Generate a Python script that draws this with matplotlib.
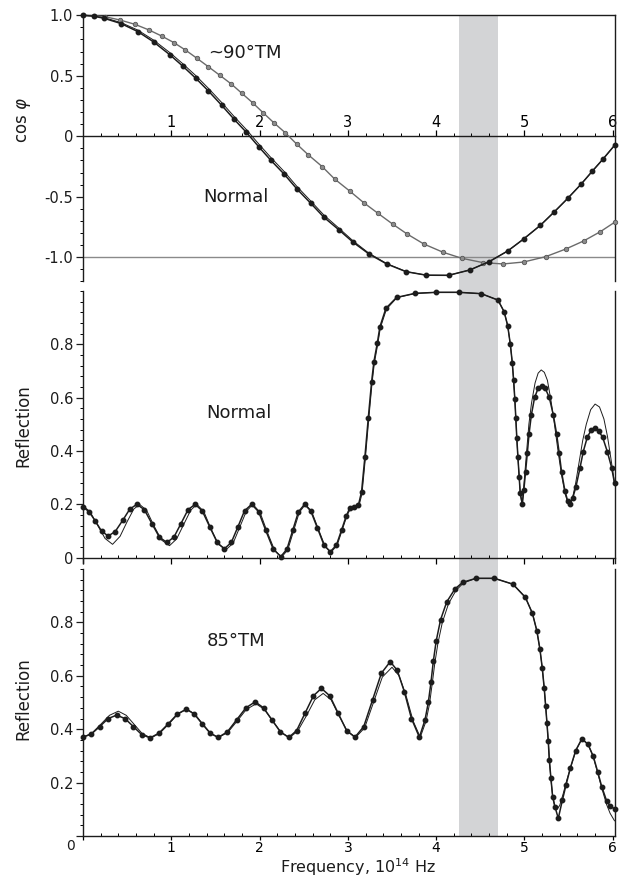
import matplotlib
matplotlib.use("Agg")
import matplotlib.pyplot as plt
from matplotlib.ticker import MultipleLocator

# shaded frequency band (10^14 Hz)
band = [4.26, 4.70]

# ---- top panel: cos(phi) ----
tm90_x = [0.00, 0.12, 0.25, 0.42, 0.59, 0.75, 0.89, 1.03, 1.16, 1.29, 1.42, 1.55, 1.68,
          1.80, 1.92, 2.04, 2.16, 2.29, 2.42, 2.55, 2.71, 2.85, 3.02, 3.18, 3.34, 3.51,
          3.67, 3.86, 4.08, 4.29, 4.53, 4.76, 4.99, 5.24, 5.47, 5.67, 5.86, 6.02]
tm90_y = [1.000, 0.997, 0.988, 0.961, 0.925, 0.878, 0.829, 0.774, 0.713, 0.645, 0.575,
          0.504, 0.432, 0.355, 0.278, 0.195, 0.113, 0.030, -0.064, -0.152, -0.251, -0.353,
          -0.452, -0.549, -0.636, -0.727, -0.807, -0.890, -0.959, -1.008, -1.044, -1.055,
          -1.039, -0.995, -0.931, -0.865, -0.788, -0.711]

norm_x = [0.00, 0.12, 0.24, 0.43, 0.62, 0.80, 0.99, 1.13, 1.28, 1.42, 1.57, 1.71, 1.85,
          1.99, 2.13, 2.28, 2.42, 2.58, 2.73, 2.90, 3.06, 3.24, 3.44, 3.66, 3.89, 4.14,
          4.38, 4.60, 4.81, 4.99, 5.18, 5.34, 5.49, 5.64, 5.77, 5.89, 6.02]
norm_dots_y = [1.0, 0.993, 0.975, 0.932, 0.866, 0.78, 0.67, 0.58, 0.478, 0.375, 0.257,
               0.142, 0.033, -0.086, -0.2, -0.314, -0.433, -0.554, -0.67, -0.774, -0.876,
               -0.973, -1.055, -1.119, -1.148, -1.149, -1.105, -1.036, -0.948, -0.849,
               -0.736, -0.623, -0.513, -0.397, -0.287, -0.188, -0.075]
norm_line_y = [1.0, 0.995, 0.98, 0.940, 0.878, 0.795, 0.688, 0.600, 0.500, 0.397, 0.280,
               0.165, 0.056, -0.063, -0.177, -0.292, -0.412, -0.535, -0.652, -0.760,
               -0.865, -0.967, -1.052, -1.118, -1.148, -1.149, -1.105, -1.036, -0.948,
               -0.849, -0.736, -0.623, -0.513, -0.397, -0.287, -0.188, -0.075]

# ---- middle panel: reflection, normal incidence ----
rn_dots_x = [0.00, 0.07, 0.14, 0.21, 0.285, 0.365, 0.45, 0.53, 0.61, 0.695, 0.78, 0.865,
             0.95, 1.03, 1.11, 1.19, 1.27, 1.35, 1.435, 1.52, 1.60, 1.68, 1.755, 1.83,
             1.91, 1.99, 2.07, 2.155, 2.24, 2.31, 2.375, 2.44, 2.51, 2.58, 2.655, 2.73,
             2.80, 2.87, 2.93, 2.98, 3.02, 3.07, 3.12,
             3.155, 3.193, 3.231, 3.269, 3.295, 3.333, 3.363, 3.431, 3.552, 3.76, 4.00,
             4.26, 4.51, 4.70, 4.77, 4.81, 4.84, 4.862, 4.877, 4.891, 4.902, 4.913, 4.926,
             4.94, 4.952, 4.975,
             4.993, 5.012, 5.032, 5.052, 5.078, 5.115, 5.155, 5.194, 5.235, 5.281, 5.327,
             5.364, 5.394, 5.421, 5.458, 5.49, 5.515,
             5.545, 5.583, 5.628, 5.666, 5.712, 5.755, 5.798, 5.84, 5.885, 5.938, 5.987, 6.02]
rn_dots_y = [0.190, 0.172, 0.137, 0.100, 0.081, 0.098, 0.140, 0.182, 0.200, 0.180, 0.128,
             0.077, 0.057, 0.077, 0.128, 0.180, 0.200, 0.176, 0.116, 0.057, 0.033, 0.057,
             0.116, 0.176, 0.200, 0.172, 0.102, 0.032, 0.004, 0.032, 0.102, 0.172, 0.200,
             0.175, 0.111, 0.047, 0.022, 0.047, 0.105, 0.155, 0.185, 0.190, 0.198,
             0.247, 0.378, 0.523, 0.660, 0.735, 0.804, 0.866, 0.935, 0.976, 0.991, 0.995,
             0.995, 0.990, 0.966, 0.922, 0.870, 0.800, 0.731, 0.666, 0.594, 0.524, 0.450,
             0.376, 0.304, 0.242, 0.201,
             0.254, 0.320, 0.391, 0.464, 0.535, 0.601, 0.635, 0.645, 0.635, 0.601, 0.535,
             0.464, 0.391, 0.320, 0.251, 0.212, 0.201,
             0.222, 0.266, 0.335, 0.398, 0.452, 0.478, 0.485, 0.475, 0.452, 0.398, 0.338, 0.279]

rn_line_x = [0.00, 0.08, 0.16, 0.25, 0.335, 0.42, 0.50, 0.575, 0.64, 0.72, 0.80, 0.89,
             0.98, 1.06, 1.14, 1.22, 1.29, 1.37, 1.45, 1.535, 1.62, 1.70, 1.775, 1.85,
             1.925, 2.005, 2.085, 2.17, 2.25, 2.32, 2.385, 2.45, 2.52, 2.59, 2.665, 2.74,
             2.81, 2.88, 2.94, 2.99, 3.03, 3.08, 3.13,
             3.16, 3.198, 3.236, 3.274, 3.30, 3.338, 3.368, 3.437, 3.556, 3.76, 4.00,
             4.26, 4.51, 4.70, 4.77, 4.81, 4.84, 4.862, 4.877, 4.891, 4.902, 4.913, 4.926,
             4.94, 4.952, 4.975,
             4.99, 5.01, 5.03, 5.05, 5.08, 5.12, 5.155, 5.19, 5.225, 5.26, 5.30, 5.34,
             5.38, 5.42, 5.46, 5.49, 5.515,
             5.545, 5.58, 5.62, 5.66, 5.70, 5.75, 5.80, 5.85, 5.90, 5.94, 5.98, 6.02]
rn_line_y = [0.195, 0.172, 0.125, 0.072, 0.050, 0.080, 0.135, 0.182, 0.200, 0.178, 0.122,
             0.066, 0.045, 0.070, 0.124, 0.178, 0.200, 0.172, 0.108, 0.050, 0.030, 0.054,
             0.114, 0.174, 0.200, 0.170, 0.098, 0.028, 0.002, 0.030, 0.100, 0.170, 0.200,
             0.173, 0.108, 0.044, 0.020, 0.048, 0.108, 0.158, 0.184, 0.190, 0.200,
             0.240, 0.372, 0.518, 0.655, 0.730, 0.800, 0.862, 0.932, 0.975, 0.991, 0.995,
             0.995, 0.990, 0.966, 0.922, 0.870, 0.800, 0.731, 0.666, 0.594, 0.524, 0.450,
             0.376, 0.304, 0.242, 0.198,
             0.26, 0.34, 0.42, 0.50, 0.58, 0.655, 0.692, 0.704, 0.695, 0.665, 0.59, 0.50,
             0.40, 0.31, 0.24, 0.207, 0.198,
             0.225, 0.28, 0.36, 0.44, 0.50, 0.555, 0.576, 0.565, 0.52, 0.455, 0.37, 0.28]

# ---- bottom panel: reflection, 85 deg TM ----
r85_dots_x = [0.00, 0.095, 0.19, 0.285, 0.38, 0.475, 0.57, 0.665, 0.76, 0.86, 0.965, 1.07,
              1.17, 1.26, 1.35, 1.44, 1.53, 1.635, 1.74, 1.845, 1.95, 2.045, 2.14, 2.235,
              2.33, 2.42, 2.515, 2.61, 2.70, 2.795, 2.89, 2.985, 3.08, 3.18, 3.28, 3.38,
              3.48, 3.56, 3.64, 3.72, 3.81,
              3.873, 3.911, 3.941, 3.968, 4.00, 4.05, 4.12, 4.212, 4.30, 4.45, 4.66, 4.87,
              5.01, 5.09, 5.14, 5.175, 5.202, 5.224, 5.24, 5.255, 5.27, 5.281, 5.30, 5.319,
              5.345, 5.383, 5.43, 5.47, 5.52, 5.58, 5.65, 5.72, 5.78, 5.83, 5.875, 5.93,
              5.97, 6.02]
r85_dots_y = [0.370, 0.382, 0.410, 0.440, 0.4525, 0.440, 0.410, 0.380, 0.3675, 0.385,
              0.420, 0.457, 0.475, 0.457, 0.420, 0.385, 0.369, 0.390, 0.435, 0.480, 0.5025,
              0.480, 0.435, 0.390, 0.369, 0.395, 0.460, 0.525, 0.553, 0.525, 0.460, 0.395,
              0.370, 0.410, 0.510, 0.610, 0.653, 0.620, 0.540, 0.440, 0.370,
              0.434, 0.500, 0.575, 0.655, 0.730, 0.810, 0.877, 0.925, 0.950, 0.965, 0.965,
              0.943, 0.894, 0.834, 0.769, 0.700, 0.628, 0.553, 0.487, 0.422, 0.354, 0.285,
              0.216, 0.147, 0.110, 0.066, 0.135, 0.190, 0.255, 0.320, 0.364, 0.343, 0.298,
              0.240, 0.185, 0.132, 0.112, 0.102]

r85_line_x = [0.00, 0.10, 0.20, 0.30, 0.40, 0.49, 0.58, 0.67, 0.77, 0.87, 0.975, 1.075,
              1.175, 1.265, 1.355, 1.445, 1.535, 1.64, 1.745, 1.85, 1.96, 2.055, 2.15,
              2.245, 2.34, 2.43, 2.53, 2.625, 2.72, 2.81, 2.90, 2.995, 3.09, 3.19, 3.29,
              3.39, 3.50, 3.58, 3.66, 3.74, 3.82,
              3.885, 3.925, 3.955, 3.985, 4.02, 4.07, 4.14, 4.225, 4.31, 4.45, 4.66, 4.87,
              5.01, 5.09, 5.14, 5.175, 5.202, 5.224, 5.24, 5.255, 5.27, 5.283, 5.298, 5.318,
              5.34, 5.365, 5.40, 5.44, 5.48, 5.53, 5.585, 5.65, 5.72, 5.78, 5.83, 5.875,
              5.93, 5.97, 6.02]
r85_line_y = [0.370, 0.385, 0.418, 0.452, 0.4675, 0.452, 0.418, 0.384, 0.367, 0.385,
              0.420, 0.457, 0.475, 0.457, 0.420, 0.385, 0.369, 0.388, 0.430, 0.474, 0.495,
              0.474, 0.430, 0.388, 0.369, 0.392, 0.450, 0.510, 0.534, 0.510, 0.450, 0.392,
              0.370, 0.405, 0.500, 0.595, 0.632, 0.600, 0.525, 0.430, 0.370,
              0.430, 0.495, 0.570, 0.648, 0.722, 0.800, 0.870, 0.920, 0.948, 0.965, 0.965,
              0.943, 0.894, 0.834, 0.769, 0.700, 0.628, 0.553, 0.487, 0.422, 0.354, 0.285,
              0.216, 0.155, 0.115, 0.098, 0.115, 0.160, 0.210, 0.265, 0.322, 0.363, 0.345,
              0.295, 0.235, 0.180, 0.118, 0.085, 0.057]

x_ticks = [0, 1, 2, 3, 4, 5, 6]
x_labels = ["0", "1", "2", "3", "4", "5", "6"]
cos_ticks = [-1.0, -0.5, 0, 0.5, 1.0]
cos_labels = ["-1.0", "-0.5", "0", "0.5", "1.0"]
refl_ticks = [0, 0.2, 0.4, 0.6, 0.8]
refl_labels = ["0", "0.2", "0.4", "0.6", "0.8"]

XMAX = 6.025
DARK = "#1c1c1c"
GREY_LINE = "#6a6a6a"
TICK_FS = 10.5

plt.rcParams["font.family"] = ["DejaVu Sans"]

fig = plt.figure(figsize=(6.23, 8.77), dpi=100)
left, width = 0.1332, 0.8539

# background axes only for the grey band, running through all three panels
bg = fig.add_axes([left, 0.04675, width, 0.98255 - 0.04675])
bg.set_xlim(0, XMAX)
bg.axvspan(band[0], band[1], color="#d3d4d6", lw=0)
bg.axis("off")
bg.set_zorder(0)

ax0 = fig.add_axes([left, 0.67902, width, 0.30354])
ax1 = fig.add_axes([left, 0.35804, width, 0.31015])
ax2 = fig.add_axes([left, 0.04675, width, 0.30445])

for ax in (ax0, ax1, ax2):
    ax.set_zorder(1)
    ax.set_facecolor("none")
    ax.set_xlim(0, XMAX)
    for s in ax.spines.values():
        s.set_linewidth(1.0)
        s.set_color(DARK)
    ax.tick_params(axis="y", which="major", direction="out", length=5, width=0.9,
                   labelsize=TICK_FS, pad=2, colors=DARK)
    ax.tick_params(axis="y", which="minor", direction="out", length=2, width=0.7)
    ax.xaxis.set_minor_locator(MultipleLocator(0.2))

dot_kw = dict(marker="o", ms=3.2, mfc=DARK, mec=DARK, color=DARK, lw=1.1, zorder=3)
thin_kw = dict(color=DARK, lw=0.7, zorder=2)

# ---- top ----
ax0.set_ylim(-1.2, 1.0)
ax0.spines["bottom"].set_visible(False)
ax0.spines["top"].set_position(("data", 0))
ax0.xaxis.tick_top()
ax0.set_xticks(x_ticks[1:], x_labels[1:])
ax0.tick_params(axis="x", which="major", direction="out", length=4, width=0.9,
                labelsize=TICK_FS, pad=0.5)
ax0.tick_params(axis="x", which="minor", direction="out", length=2.2, width=0.7)
ax0.set_yticks(cos_ticks, cos_labels)
ax0.yaxis.set_minor_locator(MultipleLocator(0.1))
ax0.axhline(1.0, color=DARK, lw=1.0, clip_on=False)
ax0.axhline(-1.0, color="#8a8a8a", lw=1.0)
ax0.plot(tm90_x, tm90_y, color=GREY_LINE, lw=1.0, marker="o", ms=3.2,
         mfc="#8c8c8c", mec="#555555", mew=0.6, zorder=3, clip_on=False)
ax0.plot(norm_x, norm_line_y, clip_on=False, **thin_kw)
ax0.plot(norm_x, norm_dots_y, clip_on=False, **dot_kw)
ax0.text(1.42, 0.69, "~90°TM", fontsize=13, ha="left", va="center", color=DARK)
ax0.text(1.36, -0.50, "Normal", fontsize=13, ha="left", va="center", color=DARK)
ax0.set_ylabel(r"cos $\varphi$", fontsize=12, color=DARK)
ax0.yaxis.set_label_coords(-0.094, 0.607)

# ---- middle ----
ax1.set_ylim(-0.02, 1.0)
ax1.spines["top"].set_visible(False)
ax1.spines["bottom"].set_position(("data", 0))
ax1.set_xticks(x_ticks, [""] * len(x_ticks))
ax1.tick_params(axis="x", which="major", direction="out", length=4, width=0.9)
ax1.tick_params(axis="x", which="minor", direction="in", length=2.2, width=0.7)
ax1.set_yticks(refl_ticks, refl_labels)
ax1.yaxis.set_minor_locator(MultipleLocator(0.04))
ax1.plot(rn_line_x, rn_line_y, clip_on=False, **thin_kw)
ax1.plot(rn_dots_x, rn_dots_y, clip_on=False, **dot_kw)
ax1.text(1.40, 0.544, "Normal", fontsize=13, ha="left", va="center", color=DARK)
ax1.set_ylabel("Reflection", fontsize=12, color=DARK)
ax1.yaxis.set_label_coords(-0.096, 0.505)

# ---- bottom ----
ax2.set_ylim(0, 1.0)
ax2.spines["top"].set_visible(False)
ax2.set_xticks(x_ticks, [""] + x_labels[1:])
ax2.tick_params(axis="x", which="major", direction="out", length=3, width=0.9,
                labelsize=10, pad=0.8)
ax2.tick_params(axis="x", which="minor", direction="in", length=2.2, width=0.7)
ax2.set_yticks(refl_ticks, [""] + refl_labels[1:])
ax2.yaxis.set_minor_locator(MultipleLocator(0.04))
ax2.plot(r85_line_x, r85_line_y, clip_on=False, **thin_kw)
ax2.plot(r85_dots_x, r85_dots_y, clip_on=False, **dot_kw)
ax2.text(-0.147, -0.036, x_labels[0], fontsize=10, ha="center", va="center",
         color=DARK, clip_on=False)
ax2.text(1.40, 0.73, "85°TM", fontsize=13, ha="left", va="center", color=DARK)
ax2.set_ylabel("Reflection", fontsize=12, color=DARK)
ax2.yaxis.set_label_coords(-0.096, 0.516)

fig.text(358 / 623, 1 - 873 / 877, r"Frequency, 10$^{14}$ Hz", fontsize=11.5,
         ha="center", va="baseline", color=DARK)

fig.savefig("out.png", dpi=100)
